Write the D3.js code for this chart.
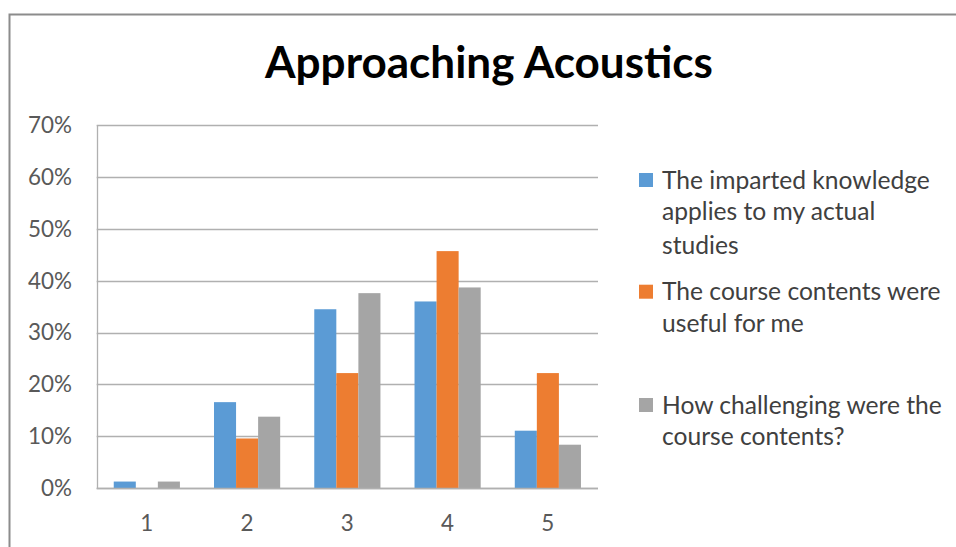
<!DOCTYPE html>
<html><head><meta charset="utf-8">
<script src="https://cdn.jsdelivr.net/npm/d3@7"></script>
<style>body{margin:0;background:#fff}svg{display:block}</style>
</head><body>
<svg id="c" width="956" height="547"></svg>
<script>
const title = "Approaching Acoustics";
const categories = ["1","2","3","4","5"];
const seriesNames = [
  ["The imparted knowledge","applies to my actual","studies"],
  ["The course contents were","useful for me"],
  ["How challenging were the","course contents?"]
];
const seriesA = [0.013, 0.166, 0.345, 0.360, 0.111];
const seriesB = [0.000, 0.096, 0.222, 0.457, 0.222];
const seriesC = [0.013, 0.138, 0.376, 0.387, 0.084];
const yTicks = [0,0.1,0.2,0.3,0.4,0.5,0.6,0.7];
const colors = ["#5B9BD5","#ED7D31","#A5A5A5"];

const values = [seriesA, seriesB, seriesC];
const svg = d3.select("#c");
const font = "Lato, 'Open Sans', sans-serif";

// frame
svg.append("path").attr("d","M9.5,547V14.5H956").attr("fill","none").attr("stroke","#8c8c8c").attr("stroke-width",2);

const pL=96.7, pR=598, pT=125, pB=488.3;
const y = d3.scaleLinear().domain([0,0.7]).range([pB,pT]);
const x = d3.scaleBand().domain(categories).range([pL,pR]).paddingInner(0.34).paddingOuter(0.17);
const xs = d3.scaleBand().domain([0,1,2]).range([0,x.bandwidth()]);

function fit(sel, target){
  const n = sel.node(); const fs = parseFloat(sel.attr("font-size"));
  const w = n.getComputedTextLength(); sel.attr("font-size", fs*target/w);
  return fs*target/w;
}

// gridlines
svg.append("g").selectAll("line").data(yTicks).join("line")
  .attr("x1",pL).attr("x2",pR).attr("y1",d=>Math.round(y(d))+0.5).attr("y2",d=>Math.round(y(d))+0.5)
  .attr("stroke","#b0b0b0").attr("stroke-width",1.3);
svg.append("line").attr("x1",Math.round(pL)+0.5).attr("x2",Math.round(pL)+0.5).attr("y1",y(0.7)).attr("y2",y(0))
  .attr("stroke","#b0b0b0").attr("stroke-width",1.3);

// bars
const g = svg.append("g");
values.forEach((vals,si)=>{
  g.selectAll(null).data(vals).join("rect")
    .attr("x",(d,i)=>x(categories[i])+xs(si))
    .attr("width",xs.bandwidth())
    .attr("y",d=>y(d)).attr("height",d=>y(0)-y(d))
    .attr("fill",colors[si]);
});
svg.append("line").attr("x1",pL).attr("x2",pR).attr("y1",Math.round(y(0))+0.5).attr("y2",Math.round(y(0))+0.5)
  .attr("stroke","#b0b0b0").attr("stroke-width",1.3);

// y labels
const yl = svg.append("g").selectAll("text").data(yTicks).join("text")
  .attr("x",72).attr("y",d=>y(d)).attr("dy","0.35em").attr("text-anchor","end")
  .attr("font-family",font).attr("font-size",20).attr("fill","#595959")
  .text(d=>d3.format(".0%")(d));
const yfs = fit(d3.select(yl.nodes()[7]), 44);
yl.attr("font-size", yfs);

// x labels
svg.append("g").selectAll("text").data(categories).join("text")
  .attr("x",d=>x(d)+x.bandwidth()/2).attr("y",523).attr("dy","0.35em").attr("text-anchor","middle")
  .attr("font-family",font).attr("font-size",yfs).attr("fill","#595959").text(d=>d);

// title
const t = svg.append("text").attr("x",489).attr("y",78.3).attr("text-anchor","middle")
  .attr("font-family",font).attr("font-weight","bold").attr("font-size",40).attr("fill","#000").text(title);
fit(t,448);

// legend
const lineY = [[180,211.7,245],[291.7,323.3],[405,436.7]];
let lfs = null;
seriesNames.forEach((lines,si)=>{
  svg.append("rect").attr("x",639).attr("y",lineY[si][0]-7).attr("width",14).attr("height",14).attr("fill",colors[si]);
  lines.forEach((ln,li)=>{
    const tt = svg.append("text").attr("class","leg").attr("x",662).attr("y",lineY[si][li]).attr("dy","0.35em")
      .attr("font-family",font).attr("font-size",20).attr("fill","#404040").text(ln);
    if(si===0&&li===0) lfs = fit(tt,268);
  });
});
svg.selectAll("text.leg").attr("font-size",lfs);
</script>
</body></html>
